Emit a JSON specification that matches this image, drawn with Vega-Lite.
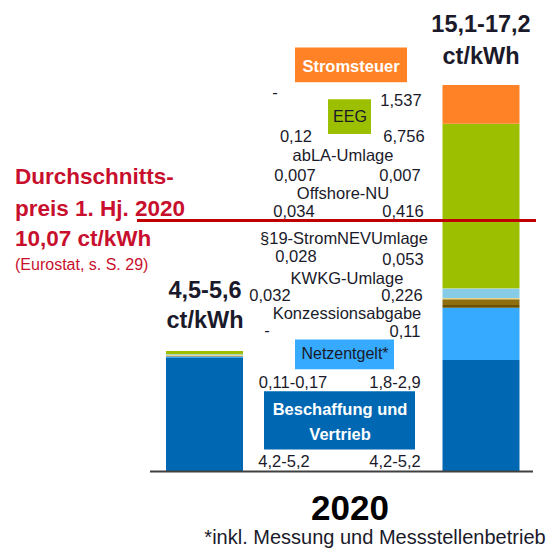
{
  "$schema": "https://vega.github.io/schema/vega-lite/v6.json",
  "width": 552,
  "height": 548,
  "autosize": {"type": "fit", "contains": "padding"},
  "padding": 0,
  "background": "white",
  "config": {"view": {"stroke": null}},
  "datasets": {
    "bars": [
      {"bar": "min", "seg": "Beschaffung", "order": 1, "value": 4.55},
      {"bar": "min", "seg": "Netzentgelt", "order": 2, "value": 0.06},
      {"bar": "min", "seg": "Konzessionsabgabe", "order": 3, "value": 0},
      {"bar": "min", "seg": "KWKG", "order": 4, "value": 0.032},
      {"bar": "min", "seg": "§19", "order": 5, "value": 0.028},
      {"bar": "min", "seg": "Offshore", "order": 6, "value": 0.034},
      {"bar": "min", "seg": "abLA", "order": 7, "value": 0.007},
      {"bar": "min", "seg": "EEG", "order": 8, "value": 0.12},
      {"bar": "min", "seg": "Stromsteuer", "order": 9, "value": 0},
      {"bar": "max", "seg": "Beschaffung", "order": 1, "value": 4.47},
      {"bar": "max", "seg": "Netzentgelt", "order": 2, "value": 2.1},
      {"bar": "max", "seg": "Konzessionsabgabe", "order": 3, "value": 0.11},
      {"bar": "max", "seg": "KWKG", "order": 4, "value": 0.23},
      {"bar": "max", "seg": "§19", "order": 5, "value": 0.05},
      {"bar": "max", "seg": "Offshore", "order": 6, "value": 0.38},
      {"bar": "max", "seg": "abLA", "order": 7, "value": 0.007},
      {"bar": "max", "seg": "EEG", "order": 8, "value": 6.6},
      {"bar": "max", "seg": "Stromsteuer", "order": 9, "value": 1.55}
    ],
    "boxes": [
      {"seg": "Stromsteuer", "x0": 295, "x1": 407, "y0": 15.61, "y1": 17.0},
      {"seg": "EEG", "x0": 328, "x1": 371, "y0": 13.54, "y1": 14.93},
      {"seg": "Netzentgelt", "x0": 295, "x1": 394, "y0": 4.1, "y1": 5.29},
      {"seg": "Beschaffung", "x0": 264, "x1": 415, "y0": 0.88, "y1": 3.22}
    ],
    "labels": [
      {"t": "-", "x": 275, "y": 15.17},
      {"t": "1,537", "x": 401, "y": 14.85},
      {"t": "0,12", "x": 296, "y": 13.42},
      {"t": "6,756", "x": 404, "y": 13.42},
      {"t": "abLA-Umlage", "x": 343, "y": 12.66},
      {"t": "0,007", "x": 295, "y": 11.86},
      {"t": "0,007", "x": 400, "y": 11.86},
      {"t": "Offshore-NU", "x": 343, "y": 11.11},
      {"t": "0,034", "x": 294, "y": 10.39},
      {"t": "0,416", "x": 403, "y": 10.39},
      {"t": "§19-StromNEVUmlage", "x": 344, "y": 9.34},
      {"t": "0,028", "x": 296, "y": 8.62},
      {"t": "0,053", "x": 403, "y": 8.5},
      {"t": "KWKG-Umlage", "x": 347, "y": 7.74},
      {"t": "0,032", "x": 270, "y": 7.05},
      {"t": "0,226", "x": 402, "y": 7.05},
      {"t": "Konzessionsabgabe", "x": 347, "y": 6.32},
      {"t": "-", "x": 267, "y": 5.65},
      {"t": "0,11", "x": 405, "y": 5.6},
      {"t": "0,11-0,17", "x": 293, "y": 3.54},
      {"t": "1,8-2,9", "x": 395, "y": 3.54},
      {"t": "4,2-5,2", "x": 284, "y": 0.4},
      {"t": "4,2-5,2", "x": 395, "y": 0.4}
    ],
    "boxWhite": [
      {"t": "Stromsteuer", "x": 351, "y": 16.24},
      {"t": "Beschaffung und", "x": 340, "y": 2.47},
      {"t": "Vertrieb", "x": 340, "y": 1.47}
    ],
    "boxDark": [
      {"t": "EEG", "x": 350, "y": 14.21},
      {"t": "Netzentgelt*", "x": 345, "y": 4.7}
    ],
    "totals": [
      {"t": "15,1-17,2", "x": 481, "y": 17.91},
      {"t": "ct/kWh", "x": 481, "y": 16.64},
      {"t": "4,5-5,6", "x": 205, "y": 7.25},
      {"t": "ct/kWh", "x": 205, "y": 6.05}
    ],
    "redBig": [
      {"t": "Durchschnitts-", "x": 15, "y": 11.82},
      {"t": "preis 1. Hj. 2020", "x": 15, "y": 10.51},
      {"t": "10,07 ct/kWh", "x": 15, "y": 9.32}
    ],
    "redSmall": [
      {"t": "(Eurostat, s. S. 29)", "x": 15, "y": 8.28}
    ],
    "year": [
      {"t": "2020", "x": 350, "y": -1.52}
    ],
    "foot": [
      {"t": "*inkl. Messung und Messstellenbetrieb", "x": 375, "y": -2.65}
    ]
  },
  "resolve": {"scale": {"x": "independent"}},
  "layer": [
    {
      "data": {"name": "bars"},
      "mark": {"type": "bar", "width": 77},
      "encoding": {
        "x": {"field": "bar", "type": "nominal", "scale": {"type": "point", "domain": ["min", "max"], "range": [204.5, 481], "padding": 0}, "axis": null},
        "y": {"field": "value", "type": "quantitative", "stack": "zero", "scale": {"domain": [-2.906, 18.909], "nice": false, "zero": false}, "axis": null},
        "order": {"field": "order", "type": "quantitative"},
        "color": {"field": "seg", "type": "nominal", "legend": null,
          "scale": {"domain": ["Beschaffung", "Netzentgelt", "Konzessionsabgabe", "KWKG", "§19", "Offshore", "abLA", "EEG", "Stromsteuer"],
                    "range": ["#0068B3", "#35AAFF", "#6B5000", "#8F6E10", "#E8D68A", "#86CCE6", "#C8D860", "#9CC000", "#FF8226"]}}
      }
    },
    {
      "data": {"name": "boxes"},
      "mark": {"type": "rect"},
      "encoding": {
        "x": {"field": "x0", "type": "quantitative", "scale": {"domain": [0, 552], "nice": false, "zero": false}, "axis": null},
        "x2": {"field": "x1"},
        "y": {"field": "y0", "type": "quantitative", "axis": null},
        "y2": {"field": "y1"},
        "color": {"field": "seg", "type": "nominal", "legend": null}
      }
    },
    {
      "data": {"values": [{}]},
      "mark": {"type": "rule", "color": "#404040", "strokeWidth": 2},
      "encoding": {
        "x": {"datum": 150, "type": "quantitative", "scale": {"domain": [0, 552], "nice": false, "zero": false}, "axis": null},
        "x2": {"datum": 533},
        "y": {"datum": 0, "type": "quantitative", "axis": null}
      }
    },
    {
      "data": {"values": [{}]},
      "mark": {"type": "rule", "color": "#C00000", "strokeWidth": 3},
      "encoding": {
        "x": {"datum": 137, "type": "quantitative", "scale": {"domain": [0, 552], "nice": false, "zero": false}, "axis": null},
        "x2": {"datum": 536},
        "y": {"datum": 10.07, "type": "quantitative", "axis": null}
      }
    },
    {
      "data": {"name": "labels"},
      "mark": {"type": "text", "font": "Liberation Sans", "fontSize": 16.5, "color": "#1a1a2a", "align": "center", "baseline": "middle"},
      "encoding": {
        "x": {"field": "x", "type": "quantitative", "scale": {"domain": [0, 552], "nice": false, "zero": false}, "axis": null},
        "y": {"field": "y", "type": "quantitative", "axis": null},
        "text": {"field": "t"}
      }
    },
    {
      "data": {"name": "boxWhite"},
      "mark": {"type": "text", "font": "Liberation Sans", "fontSize": 16.5, "fontWeight": "bold", "color": "white", "align": "center", "baseline": "middle"},
      "encoding": {
        "x": {"field": "x", "type": "quantitative", "scale": {"domain": [0, 552], "nice": false, "zero": false}, "axis": null},
        "y": {"field": "y", "type": "quantitative", "axis": null},
        "text": {"field": "t"}
      }
    },
    {
      "data": {"name": "boxDark"},
      "mark": {"type": "text", "font": "Liberation Sans", "fontSize": 16, "color": "#1a1a2a", "align": "center", "baseline": "middle"},
      "encoding": {
        "x": {"field": "x", "type": "quantitative", "scale": {"domain": [0, 552], "nice": false, "zero": false}, "axis": null},
        "y": {"field": "y", "type": "quantitative", "axis": null},
        "text": {"field": "t"}
      }
    },
    {
      "data": {"name": "totals"},
      "mark": {"type": "text", "font": "Liberation Sans", "fontSize": 23.5, "fontWeight": "bold", "color": "#1a1a2a", "align": "center", "baseline": "middle"},
      "encoding": {
        "x": {"field": "x", "type": "quantitative", "scale": {"domain": [0, 552], "nice": false, "zero": false}, "axis": null},
        "y": {"field": "y", "type": "quantitative", "axis": null},
        "text": {"field": "t"}
      }
    },
    {
      "data": {"name": "redBig"},
      "mark": {"type": "text", "font": "Liberation Sans", "fontSize": 22.5, "fontWeight": "bold", "color": "#C8102E", "align": "left", "baseline": "middle"},
      "encoding": {
        "x": {"field": "x", "type": "quantitative", "scale": {"domain": [0, 552], "nice": false, "zero": false}, "axis": null},
        "y": {"field": "y", "type": "quantitative", "axis": null},
        "text": {"field": "t"}
      }
    },
    {
      "data": {"name": "redSmall"},
      "mark": {"type": "text", "font": "Liberation Sans", "fontSize": 16, "color": "#C8102E", "align": "left", "baseline": "middle"},
      "encoding": {
        "x": {"field": "x", "type": "quantitative", "scale": {"domain": [0, 552], "nice": false, "zero": false}, "axis": null},
        "y": {"field": "y", "type": "quantitative", "axis": null},
        "text": {"field": "t"}
      }
    },
    {
      "data": {"name": "year"},
      "mark": {"type": "text", "font": "Liberation Sans", "fontSize": 35, "fontWeight": "bold", "color": "#000000", "align": "center", "baseline": "middle"},
      "encoding": {
        "x": {"field": "x", "type": "quantitative", "scale": {"domain": [0, 552], "nice": false, "zero": false}, "axis": null},
        "y": {"field": "y", "type": "quantitative", "axis": null},
        "text": {"field": "t"}
      }
    },
    {
      "data": {"name": "foot"},
      "mark": {"type": "text", "font": "Liberation Sans", "fontSize": 20, "color": "#1a1a2a", "align": "center", "baseline": "middle"},
      "encoding": {
        "x": {"field": "x", "type": "quantitative", "scale": {"domain": [0, 552], "nice": false, "zero": false}, "axis": null},
        "y": {"field": "y", "type": "quantitative", "axis": null},
        "text": {"field": "t"}
      }
    }
  ]
}
